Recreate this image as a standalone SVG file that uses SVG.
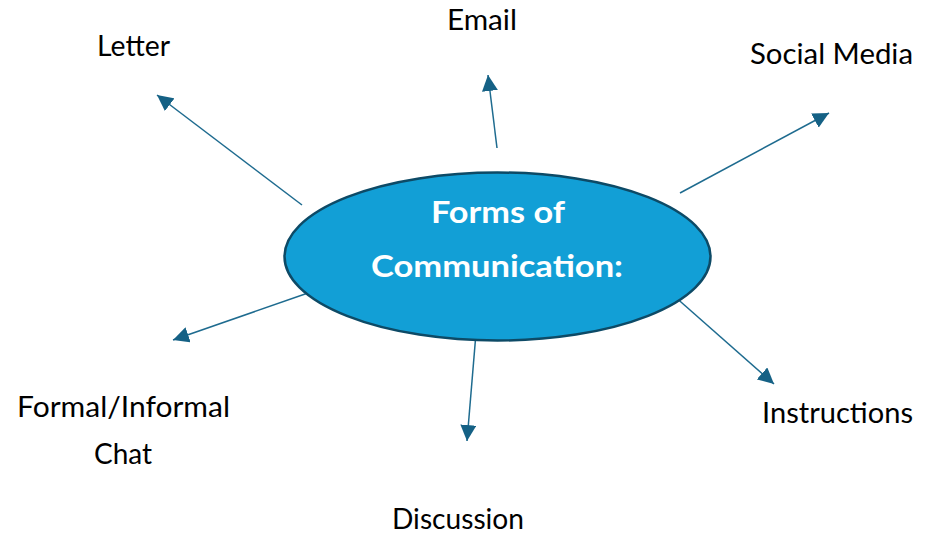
<svg xmlns="http://www.w3.org/2000/svg" width="935" height="536" viewBox="0 0 935 536">
  <style>
    .lbl { font-family: Lato, "Open Sans", "Liberation Sans", sans-serif; font-size: 29px; fill: #000000; }
    .title { font-family: Lato, "Open Sans", "Liberation Sans", sans-serif; font-size: 31px; font-weight: bold; fill: #FFFFFF; text-anchor: middle; }
    .conn { stroke: #1E6B8F; stroke-width: 1.5; fill: none; marker-end: url(#arrow); }
  </style>
  <defs>
    <marker id="arrow" markerUnits="userSpaceOnUse" markerWidth="18" markerHeight="16" refX="16" refY="8" orient="auto" viewBox="0 0 18 16">
      <path d="M0,0 L16,8 L0,16 Z" fill="#156185"/>
    </marker>
  </defs>
  <rect width="935" height="536" fill="#FFFFFF"/>
  <g id="connectors">
    <line class="conn" x1="302" y1="205" x2="157" y2="95"/>
    <line class="conn" x1="497" y1="148" x2="488" y2="75"/>
    <line class="conn" x1="680" y1="193" x2="829" y2="113"/>
    <line class="conn" x1="673" y1="295" x2="774" y2="384"/>
    <line class="conn" x1="476" y1="333" x2="467" y2="441"/>
    <line class="conn" x1="308" y1="293" x2="173" y2="340"/>
  </g>
  <g id="center">
    <ellipse cx="497.5" cy="256.5" rx="213" ry="84" fill="#129FD6" stroke="#0D4A66" stroke-width="2.5"/>
    <text class="title" x="498" y="223" textLength="134" lengthAdjust="spacingAndGlyphs">Forms of</text>
    <text class="title" x="497" y="277" textLength="252" lengthAdjust="spacingAndGlyphs">Communication:</text>
  </g>
  <g id="letter"><text class="lbl" x="97" y="56" textLength="73" lengthAdjust="spacingAndGlyphs">Letter</text></g>
  <g id="email"><text class="lbl" x="447" y="30" textLength="70" lengthAdjust="spacingAndGlyphs">Email</text></g>
  <g id="social-media"><text class="lbl" x="750" y="64" textLength="163" lengthAdjust="spacingAndGlyphs">Social Media</text></g>
  <g id="instructions"><text class="lbl" x="762" y="423" textLength="151" lengthAdjust="spacingAndGlyphs">Instructions</text></g>
  <g id="discussion"><text class="lbl" x="392" y="529" textLength="132" lengthAdjust="spacingAndGlyphs">Discussion</text></g>
  <g id="formal-informal-chat">
    <text class="lbl" x="17" y="417" textLength="213" lengthAdjust="spacingAndGlyphs">Formal/Informal</text>
    <text class="lbl" x="94" y="464" textLength="58" lengthAdjust="spacingAndGlyphs">Chat</text>
  </g>
</svg>
